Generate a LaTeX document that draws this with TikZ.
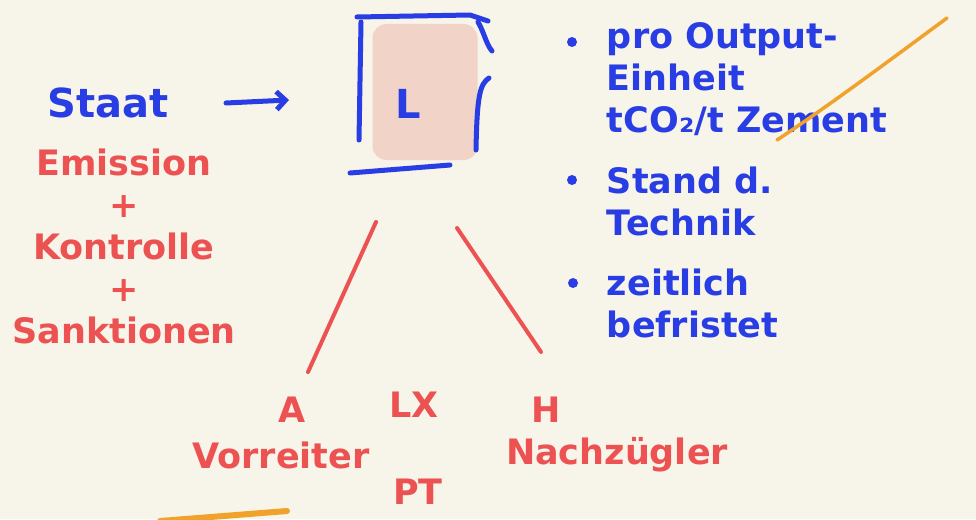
\documentclass[tikz,border=0pt]{standalone}
\usepackage{fontspec}
\setmainfont{DejaVu Sans}
\usetikzlibrary{arrows.meta}

\definecolor{penblue}{RGB}{40,62,228}
\definecolor{penred}{RGB}{236,82,82}
\definecolor{penorange}{RGB}{240,162,42}
\definecolor{fillpink}{RGB}{242,211,199}
\definecolor{paper}{RGB}{247,244,234}

\tikzset{
  pen/.style={line width=5pt, line cap=round, line join=round},
  hand/.style={inner sep=0.75pt, font=\bfseries\fontsize{35}{42}\selectfont},
}

\begin{document}
\begin{tikzpicture}[x=1pt,y=1pt,yscale=-1,xscale=1]
		% Paper background, diagram is 976 wide and 519 high
		\fill[paper] (0,0) rectangle (976,519);
		\useasboundingbox (0,0) rectangle (976,519);

		% The pink patch and the letter "L" inside the frame
		\node[fill=fillpink, rounded corners=14pt, minimum width=105, minimum height=136, inner sep=0pt] (patch) at (425,92) {};
		\node[hand, penblue, font=\bfseries\fontsize{40}{42}\selectfont] (lnode) at (408,104) {L};

		% The blue frame, drawn in loose pieces
		\draw[pen, penblue] (357,17) -- (470,15) -- (488,21);
		\draw[pen, penblue] (478,22) .. controls (484,32) and (486,44) .. (492,51);
		\draw[pen, penblue] (361,22) -- (359,140);
		\draw[pen, penblue] (489,78) .. controls (480,84) and (477,95) .. (476,150);
		\draw[pen, penblue] (350,173) -- (450,165);

		% The word "Staat" in blue with its arrow to the frame
		\node[hand, penblue, font=\bfseries\fontsize{40}{42}\selectfont] (staat) at (108,103) {Staat};
		\coordinate (arrowstart) at (226,103);
		\coordinate (arrowend) at (289,100);
		\draw[pen, penblue, -{Straight Barb[length=9pt,width=18pt]}] (arrowstart) -- (arrowend);

		% The red list under "Staat"
		\node[hand, penred, align=center] (massnahmen) at (124,246) {Emission\\+\\Kontrolle\\+\\Sanktionen};

		% The two red branches below the frame
		\coordinate (branchAtop) at (376,222);
		\coordinate (branchAbot) at (308,372);
		\coordinate (branchHtop) at (457,228);
		\coordinate (branchHbot) at (541,352);
		\draw[pen, penred, line width=4pt] (branchAtop) -- (branchAbot);
		\draw[pen, penred, line width=4pt] (branchHtop) -- (branchHbot);

		% The countries and their labels in red
		\node[hand, penred] (aland) at (292,410) {A};
		\node[hand, penred] (lxland) at (414,405) {LX};
		\node[hand, penred] (hland) at (546,410) {H};
		\node[hand, penred] (vorreiter) at (281,455) {Vorreiter};
		\node[hand, penred] (ptland) at (418,492) {PT};
		\node[hand, penred] (nachzuegler) at (617,455) {Nachzügler};

		% The bullet points in blue
		\fill[penblue] (572,42) circle (5);
		\fill[penblue] (572,180) circle (5);
		\fill[penblue] (573,283) circle (5);

		% The bullet texts in blue
		\node[hand, penblue, anchor=north west, align=left] (proeinheit) at (606,22) {pro Output-\\Einheit\\tCO₂/t Zement};
		\node[hand, penblue, anchor=north west, align=left] (standtechnik) at (606,166) {Stand d.\\Technik};
		\node[hand, penblue, anchor=north west, align=left] (befristet) at (606,268) {zeitlich\\befristet};

		% The orange strokes
		\draw[pen, penorange, line width=3.5pt] (777,140) .. controls (830,105) and (890,60) .. (947,18);
		\draw[pen, penorange, line width=6pt] (160,521) -- (287,511);
	\end{tikzpicture}
\end{document}
